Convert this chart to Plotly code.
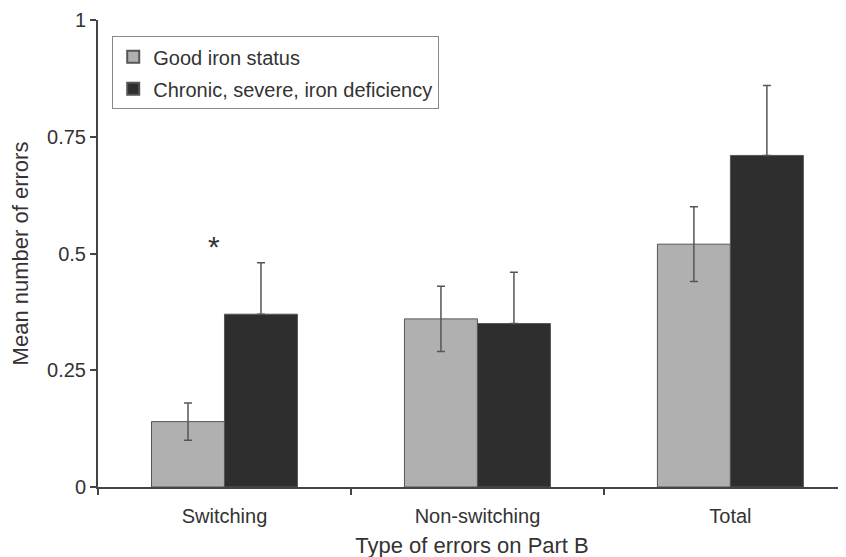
import plotly.graph_objects as go

categories = ["Switching", "Non-switching", "Total"]
good_vals = [0.14, 0.36, 0.52]
good_err = [0.04, 0.07, 0.08]
def_vals = [0.37, 0.35, 0.71]
def_err = [0.11, 0.11, 0.15]
series_names = ["Good iron status", "Chronic, severe, iron deficiency"]
y_ticks = [0, 0.25, 0.5, 0.75, 1]
y_ticklabels = ["0", "0.25", "0.5", "0.75", "1"]

font = "Liberation Sans, Arial, sans-serif"
txt = "#333333"

fig = go.Figure()
fig.add_trace(go.Bar(
    x=categories, y=good_vals, name=series_names[0], legendgroup="g1",
    marker=dict(color="#b0b0b0", line=dict(color="#555555", width=1)),
    error_y=dict(type="data", array=good_err, visible=True, color="#555555", thickness=1.5, width=4),
))
# lower half of the dark bars' error bars is hidden inside the dark bar in the original
fig.add_trace(go.Bar(
    x=categories, y=def_vals, name=series_names[1], legendgroup="g2",
    marker=dict(color="#2e2e2e", line=dict(color="#555555", width=1)),
    error_y=dict(type="data", array=def_err, arrayminus=[0 for _ in def_err], symmetric=False,
                 visible=True, color="#555555", thickness=1.5, width=4),
))

fig.add_annotation(x=-0.04, y=0.515, xref="x", yref="y", text="*", showarrow=False,
                   font=dict(family=font, size=30, color=txt))

fig.update_layout(
    width=846, height=557,
    margin=dict(l=90, r=8, t=12, b=78, autoexpand=False),
    plot_bgcolor="white", paper_bgcolor="white",
    barmode="group", bargap=0.423, bargroupgap=0,
    font=dict(family=font, size=20, color=txt),
    showlegend=True,
    legend=dict(x=0.019, y=0.965, xanchor="left", yanchor="top",
                bordercolor="#888888", borderwidth=1, bgcolor="white",
                font=dict(family=font, size=20, color=txt),
                itemsizing="constant", tracegroupgap=3, itemwidth=30),
    xaxis=dict(type="category", range=[-0.5, 2.457], showline=True, linecolor="#444444", linewidth=2,
               ticks="outside", tickson="boundaries", ticklen=6, tickcolor="#444444", tickwidth=1.5,
               showgrid=False, tickfont=dict(size=20, color=txt), automargin=False,
               ticklabelstandoff=10,
               title=dict(text="Type of errors on Part B", font=dict(size=22, color=txt), standoff=12)),
    yaxis=dict(range=[0, 1], tickvals=y_ticks, ticktext=y_ticklabels, showline=True,
               linecolor="#444444", linewidth=2, ticks="outside", ticklen=6, tickcolor="#444444",
               tickwidth=1.5, showgrid=False, zeroline=False, tickfont=dict(size=20, color=txt),
               automargin=False,
               title=dict(text="Mean number of errors", font=dict(size=22, color=txt), standoff=16)),
)

fig.write_html("out.html")
